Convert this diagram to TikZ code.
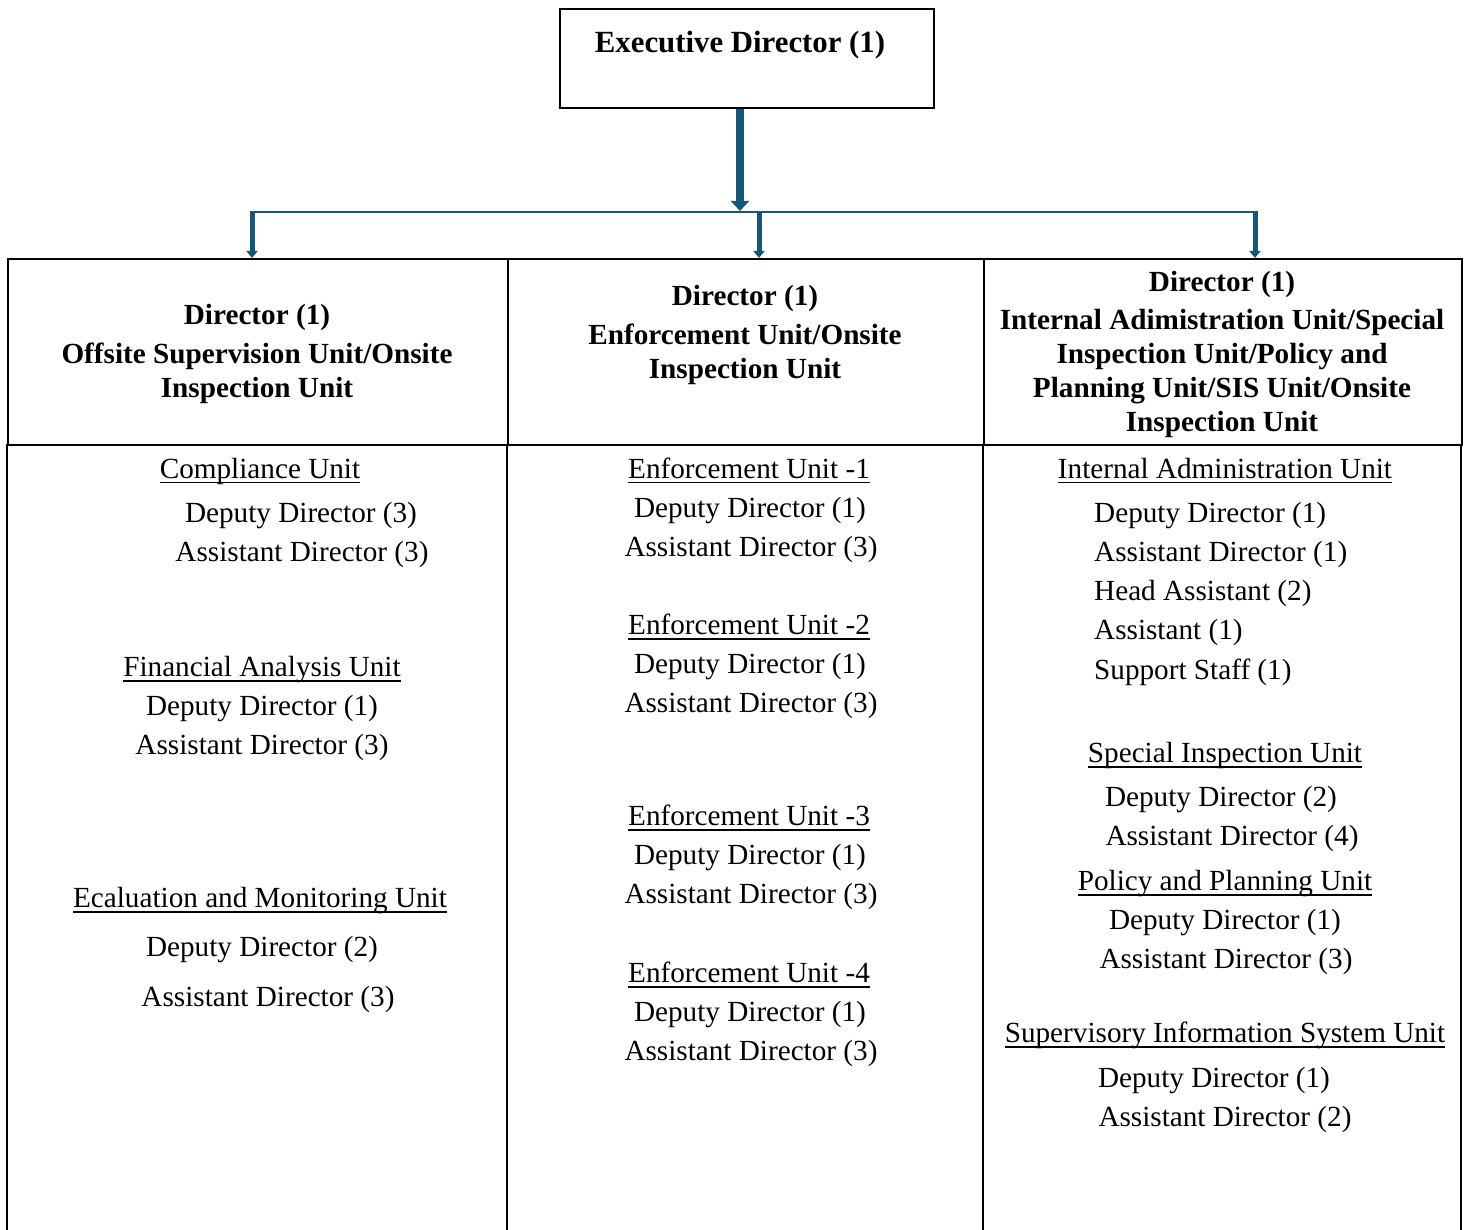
\documentclass[tikz,border=0pt]{standalone}
\usepackage{fontspec}
\setmainfont{Liberation Serif}
\usetikzlibrary{positioning, arrows.meta, calc}

\definecolor{linkblue}{RGB}{24,86,117}

% underline at a fixed depth below the baseline
\newsavebox{\ulbox}
\newcommand{\unitline}[1]{\sbox{\ulbox}{#1}\rlap{\rule[-5pt]{\wd\ulbox}{1.6pt}}\usebox{\ulbox}}

\tikzset{
  txt/.style={inner sep=0pt, anchor=base, yshift=-9.5pt, font=\fontsize{29.2}{34}\selectfont},
  head/.style={inner sep=0pt, anchor=base, yshift=-8.5pt, font=\fontsize{29.2}{34}\selectfont\bfseries},
  cell/.style={draw, line width=2pt, inner sep=0pt},
  bigarrow/.style={-{Triangle[length=10pt, width=18pt]}, line width=8pt, draw=linkblue},
  smallarrow/.style={-{Triangle[length=7pt, width=11pt]}, line width=5pt, draw=linkblue},
}

\begin{document}
\begin{tikzpicture}[x=1pt, y=-1pt]
  \useasboundingbox (0,0) rectangle (1468,1230);

  % top box
  \node[cell, anchor=north west, minimum width=374pt, minimum height=99pt] (exec) at (559,8) {};
  \node[inner sep=0pt, anchor=base, font=\fontsize{30.8}{36}\selectfont\bfseries] (execlbl) at (740,53) {Executive Director (1)};

  % header cells
  \node[cell, anchor=north west, minimum width=500pt, minimum height=186pt] (hdA) at (7,258) {};
  \node[cell, anchor=north west, minimum width=476pt, minimum height=186pt] (hdB) at (507,258) {};
  \node[cell, anchor=north west, minimum width=478pt, minimum height=186pt] (hdC) at (983,258) {};
  \foreach \x in {7,507,983,1461}
    {\draw[line width=2pt] (\x,444) -- (\x,1240);}

  % connectors
  \coordinate (split) at (740,211);
  \coordinate (brA) at (252,211);
  \coordinate (brB) at (759,211);
  \coordinate (brC) at (1255,211);
  \draw[bigarrow] (exec.south -| split) -- (split);
  \draw[linkblue, line width=2pt] ($(brA)+(0,1)$) -- ($(brC)+(0,1)$);
  \foreach \c/\h in {brA/hdA, brB/hdB, brC/hdC}
    {\draw[smallarrow] (\c) -- (\c |- \h.north);}

  % header texts
  \foreach \y/\t in {316/Director (1), 355/{Offsite Supervision Unit/Onsite}, 389/Inspection Unit}
    {\node[head] (hA\y) at (257,\y) {\t};}
  \foreach \y/\t in {297/Director (1), 336/{Enforcement Unit/Onsite}, 370/Inspection Unit}
    {\node[head] (hB\y) at (745,\y) {\t};}
  \foreach \y/\t in {283/Director (1), 321/{Internal Adimistration Unit/Special},
                     355/{Inspection Unit/Policy and}, 389/{Planning Unit/SIS Unit/Onsite},
                     423/Inspection Unit}
    {\node[head] (hC\y) at (1222,\y) {\t};}

  % first column
  \foreach \x/\y/\t in {260/469/Compliance Unit, 262/667/Financial Analysis Unit,
                        260/898/Ecaluation and Monitoring Unit}
    {\node[txt] (uA\y) at (\x,\y) {\unitline{\t}};}
  \foreach \x/\y/\t in {301/513/Deputy Director (3), 302/552/Assistant Director (3),
                        262/706/Deputy Director (1), 262/745/Assistant Director (3),
                        262/947/Deputy Director (2), 268/997/Assistant Director (3)}
    {\node[txt] (pA\y) at (\x,\y) {\t};}

  % second column
  \foreach \n/\y in {1/469, 2/625, 3/816, 4/973}{
    \node[txt] (uB\n) at (749,\y) {\unitline{Enforcement Unit -\n}};
    \node[txt] (dB\n) at (750,\y+39) {Deputy Director (1)};
    \node[txt] (aB\n) at (751,\y+78) {Assistant Director (3)};
  }

  % third column
  \foreach \y/\t in {469/Internal Administration Unit, 753/Special Inspection Unit,
                     881/Policy and Planning Unit, 1033/Supervisory Information System Unit}
    {\node[txt] (uC\y) at (1225,\y) {\unitline{\t}};}
  \foreach \y/\t in {513/Deputy Director (1), 552/Assistant Director (1), 591/Head Assistant (2),
                     630/Assistant (1), 670/Support Staff (1)}
    {\node[txt, anchor=base west] (pC\y) at (1094,\y) {\t};}
  \foreach \x/\y/\t in {1221/797/Deputy Director (2), 1232/836/Assistant Director (4),
                        1225/920/Deputy Director (1), 1226/959/Assistant Director (3),
                        1214/1078/Deputy Director (1), 1225/1117/Assistant Director (2)}
    {\node[txt] (qC\y) at (\x,\y) {\t};}
\end{tikzpicture}
\end{document}
